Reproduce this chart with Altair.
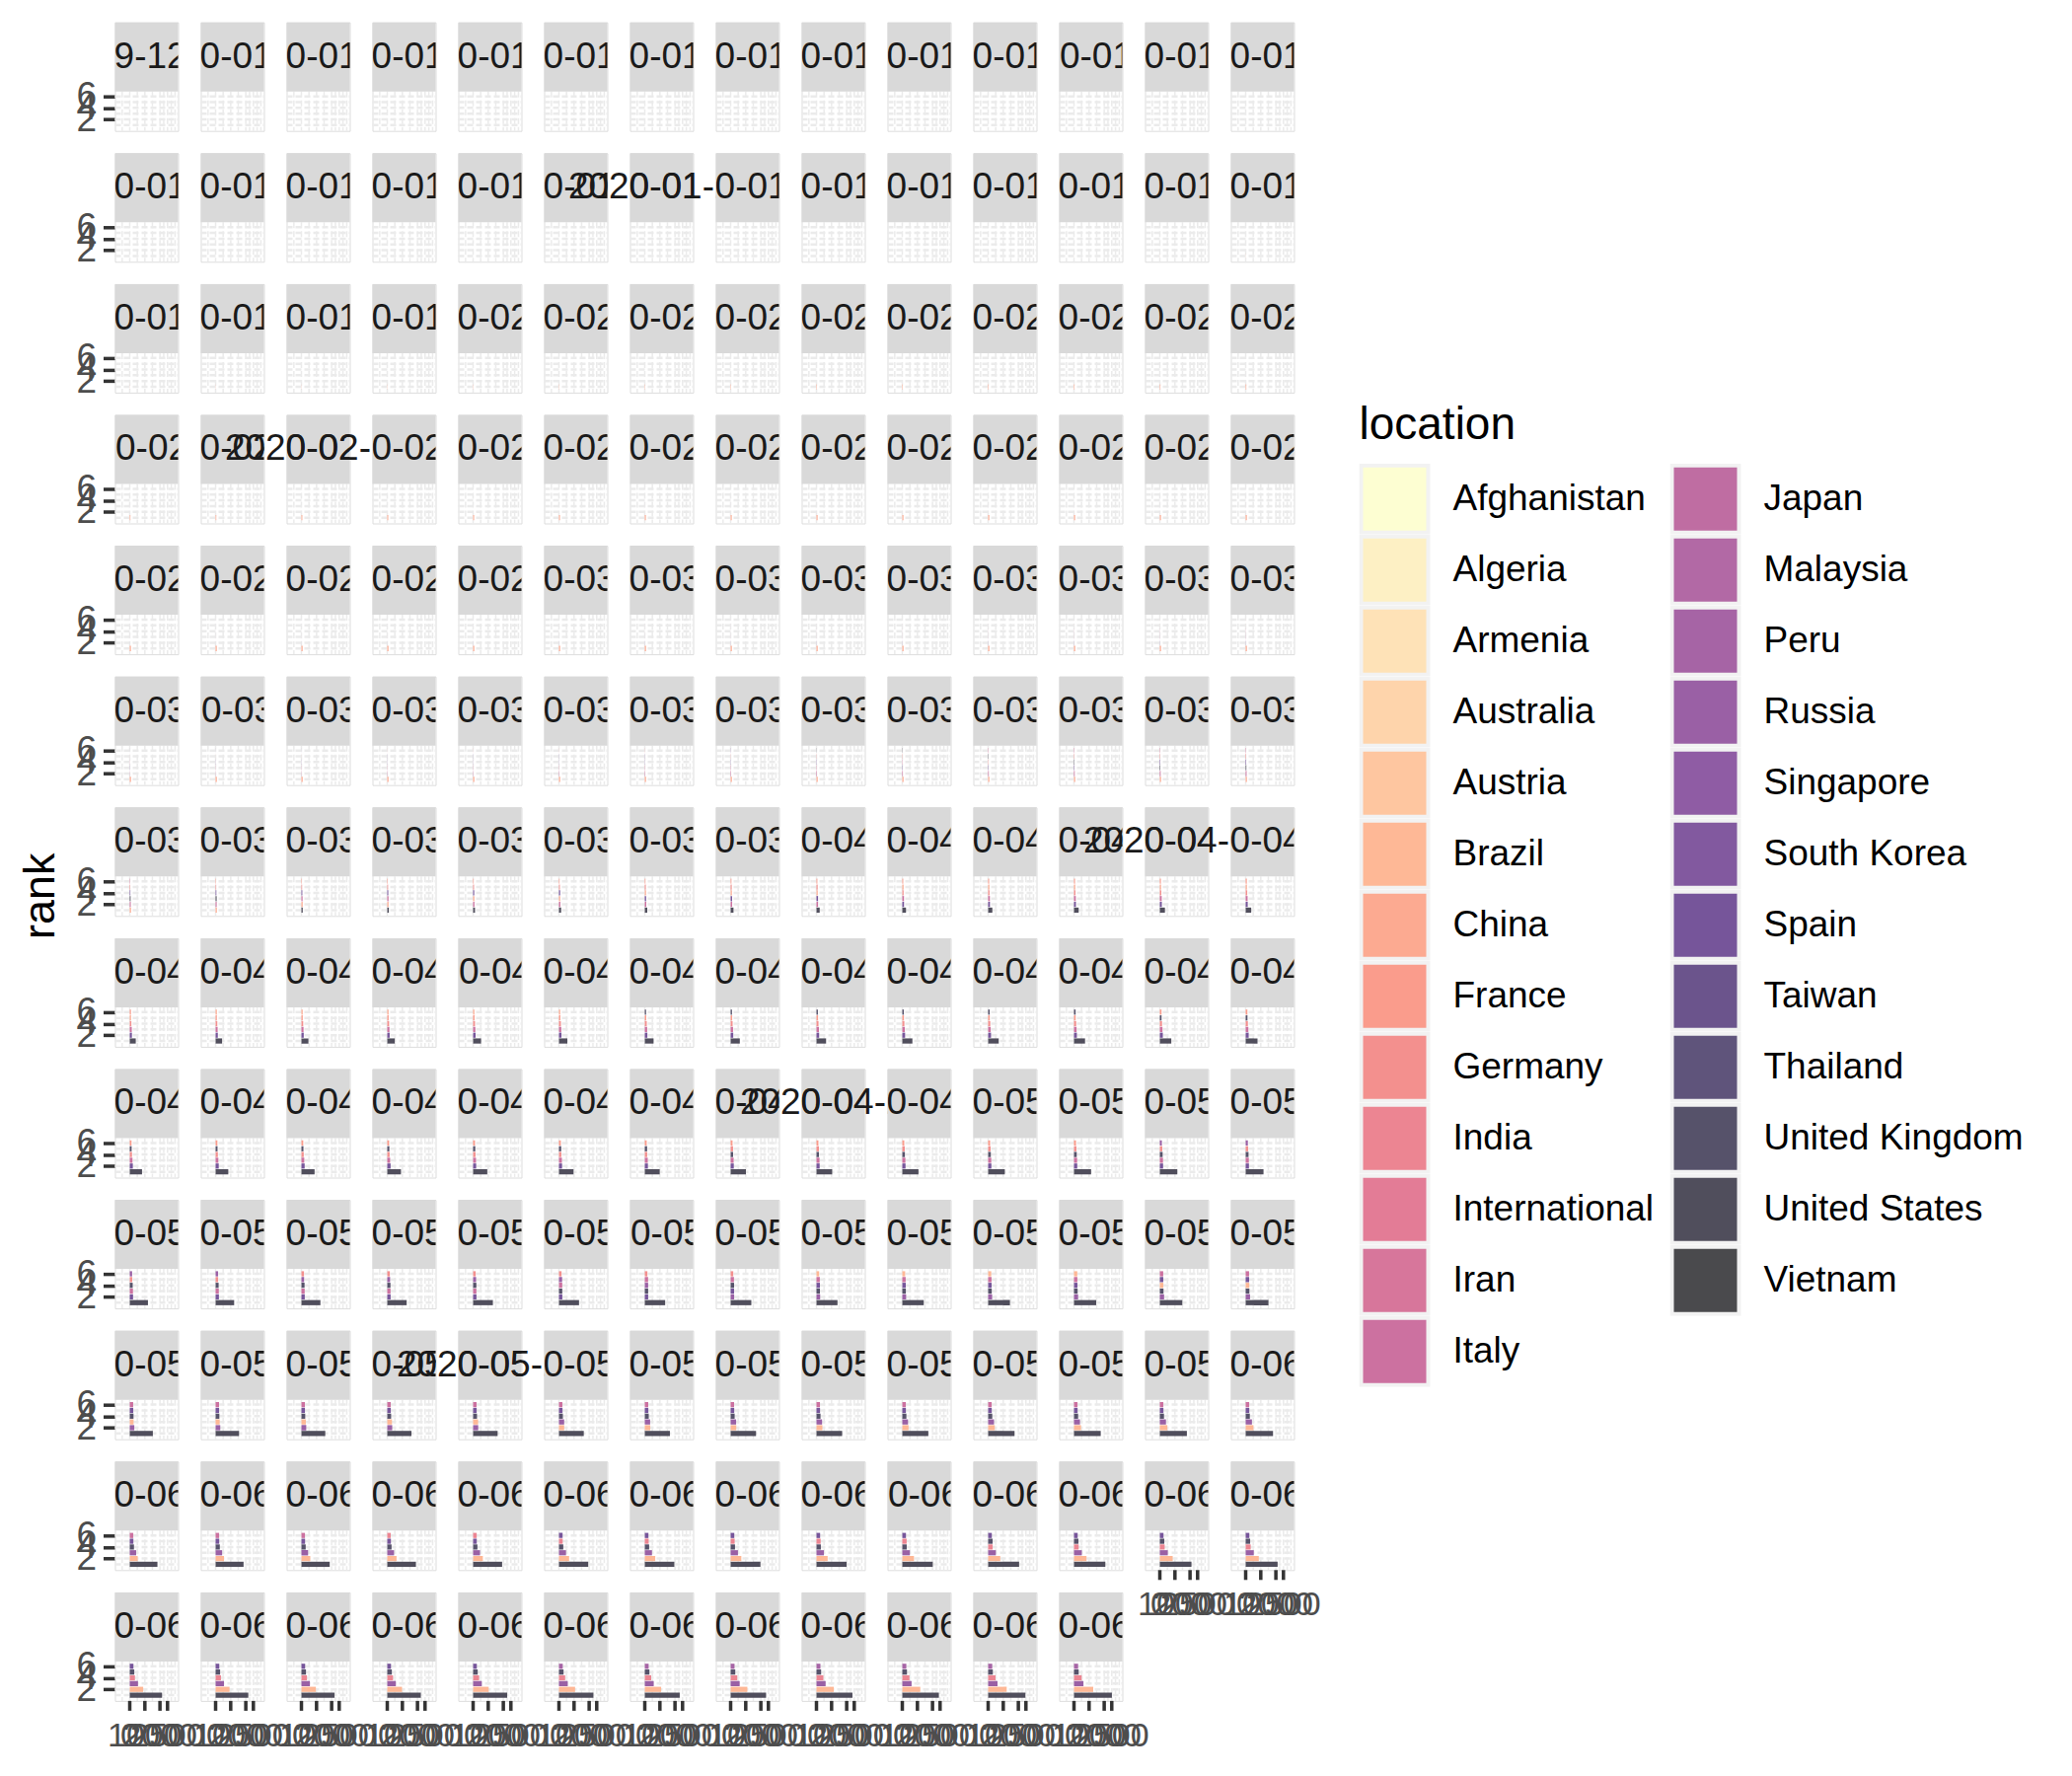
import altair as alt
import pandas as pd

FONT = "Liberation Sans"

LOCATIONS = ["Afghanistan", "Algeria", "Armenia", "Australia", "Austria", "Brazil",
             "China", "France", "Germany", "India", "International", "Iran", "Italy",
             "Japan", "Malaysia", "Peru", "Russia", "Singapore", "South Korea", "Spain",
             "Taiwan", "Thailand", "United Kingdom", "United States", "Vietnam"]

CODE = {"AF": "Afghanistan", "DZ": "Algeria", "AM": "Armenia", "AU": "Australia",
        "AT": "Austria", "BR": "Brazil", "CN": "China", "FR": "France", "DE": "Germany",
        "IN": "India", "INT": "International", "IR": "Iran", "IT": "Italy", "JP": "Japan",
        "MY": "Malaysia", "PE": "Peru", "RU": "Russia", "SG": "Singapore",
        "KR": "South Korea", "ES": "Spain", "TW": "Taiwan", "TH": "Thailand",
        "GB": "United Kingdom", "US": "United States", "VN": "Vietnam"}

START_DATE = "2019-12-31"

# top six locations (rank 1 first) with cumulative cases, one entry per day
TOP6 = [
    "CN:27 AF:0 DZ:0 AM:0 AU:0 AT:0",  # 12-31
    "CN:27 AF:0 DZ:0 AM:0 AU:0 AT:0",  # 01-01
    "CN:27 AF:0 DZ:0 AM:0 AU:0 AT:0",  # 01-02
    "CN:44 AF:0 DZ:0 AM:0 AU:0 AT:0",  # 01-03
    "CN:44 AF:0 DZ:0 AM:0 AU:0 AT:0",  # 01-04
    "CN:59 AF:0 DZ:0 AM:0 AU:0 AT:0",  # 01-05
    "CN:59 AF:0 DZ:0 AM:0 AU:0 AT:0",  # 01-06
    "CN:59 AF:0 DZ:0 AM:0 AU:0 AT:0",  # 01-07
    "CN:59 AF:0 DZ:0 AM:0 AU:0 AT:0",  # 01-08
    "CN:59 AF:0 DZ:0 AM:0 AU:0 AT:0",  # 01-09
    "CN:59 AF:0 DZ:0 AM:0 AU:0 AT:0",  # 01-10
    "CN:41 AF:0 DZ:0 AM:0 AU:0 AT:0",  # 01-11
    "CN:41 AF:0 DZ:0 AM:0 AU:0 AT:0",  # 01-12
    "CN:41 TH:1 AF:0 DZ:0 AM:0 AU:0",  # 01-13
    "CN:41 TH:1 AF:0 DZ:0 AM:0 AU:0",  # 01-14
    "CN:41 JP:1 TH:1 AF:0 DZ:0 AM:0",  # 01-15
    "CN:45 TH:2 JP:1 AF:0 DZ:0 AM:0",  # 01-16
    "CN:62 TH:2 JP:1 AF:0 DZ:0 AM:0",  # 01-17
    "CN:121 TH:2 JP:1 AF:0 DZ:0 AM:0",  # 01-18
    "CN:198 TH:2 JP:1 AF:0 DZ:0 AM:0",  # 01-19
    "CN:291 TH:2 JP:1 KR:1 AF:0 DZ:0",  # 01-20
    "CN:440 TH:2 JP:1 KR:1 TW:1 AF:0",  # 01-21
    "CN:571 TH:4 JP:1 KR:1 TW:1 US:1",  # 01-22
    "CN:830 TH:4 JP:1 KR:1 TW:1 US:1",  # 01-23
    "CN:1287 TH:5 SG:3 TW:3 JP:2 VN:2",  # 01-24
    "CN:1975 TH:7 FR:3 MY:3 SG:3 TW:3",  # 01-25
    "CN:2744 TH:8 AU:4 JP:4 MY:4 SG:4",  # 01-26
    "CN:4515 TH:8 AU:5 SG:5 TW:5 JP:4",  # 01-27
    "CN:5974 TH:14 TW:8 SG:7 JP:6 AU:5",  # 01-28
    "CN:7711 TH:14 TW:8 JP:7 MY:7 SG:7",  # 01-29
    "CN:9692 TH:14 JP:11 SG:10 TW:9 MY:8",  # 01-30
    "CN:11791 TH:19 JP:14 SG:13 KR:11 TW:10",  # 01-31
    "CN:14380 TH:19 JP:17 SG:16 KR:12 TW:10",  # 02-01
    "CN:17205 JP:20 TH:19 SG:18 KR:15 AU:12",  # 02-02
    "CN:20438 JP:20 TH:19 SG:18 KR:15 AU:12",  # 02-03
    "CN:24324 TH:25 SG:24 JP:20 KR:16 AU:13",  # 02-04
    "CN:28018 SG:28 TH:25 JP:22 KR:19 AU:13",  # 02-05
    "CN:31161 SG:28 JP:25 TH:25 KR:23 INT:20",  # 02-06
    "CN:34546 INT:61 SG:30 JP:25 TH:25 KR:24",  # 02-07
    "CN:37198 INT:64 SG:33 TH:32 JP:25 KR:24",  # 02-08
    "CN:40171 INT:64 SG:40 TH:32 KR:27 JP:26",  # 02-09
    "CN:42638 INT:135 SG:45 TH:32 KR:27 JP:26",  # 02-10
    "CN:44653 INT:135 SG:47 TH:33 KR:28 JP:26",  # 02-11
    "CN:46472 INT:175 SG:50 TH:33 JP:28 KR:28",  # 02-12
    "CN:59804 INT:175 SG:58 TH:33 JP:29 KR:28",  # 02-13
    "CN:63851 INT:218 SG:67 JP:33 TH:33 KR:28",  # 02-14
    "CN:66492 INT:285 SG:72 JP:41 TH:34 KR:28",  # 02-15
    "CN:68500 INT:355 SG:75 JP:53 TH:34 KR:29",  # 02-16
    "CN:70548 INT:454 SG:77 JP:59 TH:35 KR:30",  # 02-17
    "CN:72436 INT:542 SG:81 JP:66 TH:35 KR:31",  # 02-18
    "CN:74185 INT:621 SG:84 JP:73 KR:51 TH:35",  # 02-19
    "CN:74576 INT:634 KR:104 JP:84 SG:84 TH:35",  # 02-20
    "CN:75465 INT:634 KR:204 JP:93 SG:85 TH:35",  # 02-21
    "CN:76288 INT:634 KR:433 JP:105 SG:86 TH:35",  # 02-22
    "CN:76936 INT:691 KR:602 JP:132 SG:89 IT:79",  # 02-23
    "CN:77150 KR:833 INT:691 IT:150 JP:144 SG:89",  # 02-24
    "CN:77658 KR:977 INT:691 IT:227 JP:144 SG:90",  # 02-25
    "CN:78064 KR:1261 INT:705 IT:320 JP:164 IR:95",  # 02-26
    "CN:78497 KR:1766 INT:705 IT:445 JP:186 IR:139",  # 02-27
    "CN:78824 KR:2337 INT:705 IT:650 IR:245 JP:210",  # 02-28
    "CN:79251 KR:3150 IT:888 INT:705 IR:388 JP:230",  # 02-29
    "CN:79824 KR:3736 IT:1128 INT:705 IR:593 JP:239",  # 03-01
    "CN:80026 KR:4212 IT:1694 IR:978 INT:705 JP:254",  # 03-02
    "CN:80151 KR:4812 IT:2036 IR:1501 INT:705 JP:268",  # 03-03
    "CN:80270 KR:5328 IT:2502 IR:2336 INT:705 FR:285",  # 03-04
    "CN:80409 KR:5766 IT:3089 IR:2922 INT:705 DE:482",  # 03-05
    "CN:80552 KR:6284 IT:3858 IR:3513 INT:705 DE:670",  # 03-06
    "CN:80651 KR:6767 IR:4747 IT:4636 FR:949 DE:799",  # 03-07
    "CN:80695 KR:7134 IT:5883 IR:5823 FR:1126 DE:1040",  # 03-08
    "CN:80735 KR:7382 IT:7375 IR:6566 FR:1412 DE:1176",  # 03-09
    "CN:80754 IT:9172 KR:7513 IR:7161 FR:1784 ES:1695",  # 03-10
    "CN:80778 IT:10149 IR:8042 KR:7755 FR:2281 ES:2277",  # 03-11
    "CN:80793 IT:12462 IR:9000 KR:7869 FR:2876 ES:2277",  # 03-12
    "CN:80813 IT:15113 IR:10075 KR:7979 ES:5232 DE:3675",  # 03-13
    "CN:80824 IT:17660 IR:11364 KR:8086 ES:6391 DE:4585",  # 03-14
    "CN:80844 IT:21157 IR:12729 KR:8162 ES:7798 DE:5795",  # 03-15
    "CN:80860 IT:24747 IR:13938 ES:9942 KR:8236 DE:7272",  # 03-16
    "CN:80881 IT:27980 IR:14991 ES:11748 DE:9257 KR:8320",  # 03-17
    "CN:80894 IT:31506 IR:16169 ES:13910 DE:12327 US:9197",  # 03-18
    "CN:80928 IT:35713 ES:17963 IR:17361 DE:15320 US:13779",  # 03-19
    "CN:80967 IT:41035 ES:20410 DE:19848 US:19367 IR:18407",  # 03-20
    "CN:81008 IT:47021 ES:25374 US:24192 DE:22213 IR:19644",  # 03-21
    "CN:81054 IT:53578 US:33592 ES:28603 DE:24873 IR:20610",  # 03-22
    "CN:81093 IT:59138 US:43781 ES:35136 DE:29056 IR:21638",  # 03-23
    "CN:81171 IT:63927 US:54856 ES:39885 DE:32986 IR:23049",  # 03-24
    "CN:81218 IT:69176 US:68211 ES:49515 DE:37323 FR:25233",  # 03-25
    "US:85435 CN:81285 IT:74386 ES:57786 DE:43938 FR:29155",  # 03-26
    "US:104126 CN:81340 IT:80589 ES:65719 DE:50871 FR:32964",  # 03-27
    "US:124686 IT:86498 CN:81394 ES:73232 DE:57695 FR:37575",  # 03-28
    "US:143055 IT:92472 CN:81439 ES:80110 DE:62095 FR:40174",  # 03-29
    "US:164610 IT:97689 ES:87956 CN:81470 DE:66885 FR:44550",  # 03-30
    "US:189618 IT:101739 ES:95923 CN:81518 DE:71808 FR:52128",  # 03-31
    "US:213372 IT:105792 ES:104118 CN:81554 DE:77872 FR:56989",  # 04-01
    "US:243453 ES:112065 IT:110574 DE:84794 CN:81589 FR:59105",  # 04-02
    "US:275586 ES:119199 IT:115242 DE:91159 CN:81620 FR:64338",  # 04-03
    "US:308850 ES:126168 IT:119827 DE:96092 CN:81669 FR:68605",  # 04-04
    "US:337072 ES:131646 IT:124632 DE:100123 CN:81708 FR:70478",  # 04-05
    "US:366667 ES:136675 IT:128948 DE:103374 CN:81740 FR:74390",  # 04-06
    "US:396223 ES:141942 IT:132547 DE:107663 CN:81802 FR:78167",  # 04-07
    "US:429052 ES:148220 IT:135586 DE:113296 FR:82048 CN:81865",  # 04-08
    "US:461437 ES:153222 IT:139422 DE:118181 FR:86334 CN:81907",  # 04-09
    "US:496535 ES:158273 IT:143626 DE:122171 FR:90676 CN:81953",  # 04-10
    "US:526396 ES:163027 IT:147577 DE:124908 FR:93790 CN:82052",  # 04-11
    "US:555313 ES:166831 IT:152271 DE:127854 FR:95403 CN:82160",  # 04-12
    "US:580619 ES:170099 IT:156363 DE:130072 FR:98076 GB:84279",  # 04-13
    "US:607670 ES:172541 IT:159516 DE:131359 FR:103573 GB:88621",  # 04-14
    "US:636350 ES:177644 IT:162488 DE:134753 FR:106206 GB:93873",  # 04-15
    "US:667801 ES:184948 IT:165155 DE:137698 FR:108847 GB:98476",  # 04-16
    "US:699706 ES:190839 IT:168941 DE:141397 FR:109252 GB:103093",  # 04-17
    "US:732197 ES:191726 IT:172434 DE:143342 FR:111821 GB:108692",  # 04-18
    "US:759086 ES:198674 IT:175925 DE:145184 GB:114217 FR:112606",  # 04-19
    "US:784326 ES:200210 IT:178972 DE:147065 GB:120067 FR:114657",  # 04-20
    "US:811865 ES:204178 IT:181228 DE:148291 GB:124743 FR:117324",  # 04-21
    "US:840351 ES:208389 IT:183957 DE:150648 GB:129044 FR:119151",  # 04-22
    "US:869170 ES:213024 IT:187327 DE:153129 GB:133495 FR:120804",  # 04-23
    "US:905358 ES:219764 IT:189973 DE:154999 GB:138078 FR:122577",  # 04-24
    "US:938154 ES:202990 IT:192994 DE:156513 GB:143464 FR:124114",  # 04-25
    "US:965785 ES:205905 IT:195351 DE:157770 GB:148377 FR:124575",  # 04-26
    "US:988197 ES:207634 IT:197675 DE:158758 GB:152840 FR:125770",  # 04-27
    "US:1012582 ES:209465 IT:199414 GB:161145 DE:159912 FR:126835",  # 04-28
    "US:1039909 ES:210773 IT:201505 GB:165221 DE:161539 FR:128442",  # 04-29
    "US:1069424 ES:212917 IT:203591 GB:171253 DE:163009 FR:129581",  # 04-30
    "US:1103461 ES:213435 IT:205463 GB:177454 DE:164077 FR:130185",  # 05-01
    "US:1132539 ES:215216 IT:207428 GB:182260 DE:164967 FR:130979",  # 05-02
    "US:1158040 ES:216582 IT:209328 GB:186599 DE:165664 RU:134687",  # 05-03
    "US:1180375 ES:217466 IT:210717 GB:190584 DE:166152 RU:145268",  # 05-04
    "US:1204351 ES:218011 IT:211938 GB:194990 DE:167007 RU:155370",  # 05-05
    "US:1228603 ES:219329 IT:213013 GB:201101 DE:168162 RU:165929",  # 05-06
    "US:1257023 ES:220325 IT:214457 GB:206715 RU:177160 DE:169430",  # 05-07
    "US:1283929 ES:221447 IT:215858 GB:211364 RU:187859 DE:170588",  # 05-08
    "US:1309550 ES:222857 IT:217185 GB:215260 RU:198676 DE:171324",  # 05-09
    "US:1329260 ES:223578 GB:219183 IT:218268 RU:209688 DE:171879",  # 05-10
    "US:1347881 ES:224350 GB:223060 RU:221344 IT:219070 DE:172576",  # 05-11
    "US:1369376 RU:232243 ES:227436 GB:226463 IT:219814 DE:173171",  # 05-12
    "US:1390406 RU:242271 GB:229705 ES:228030 IT:221216 BR:177589",  # 05-13
    "US:1417774 RU:252245 GB:233151 ES:228691 IT:222104 BR:188974",  # 05-14
    "US:1442824 RU:262843 GB:236711 ES:229540 IT:223096 BR:202918",  # 05-15
    "US:1467820 RU:272043 GB:240161 ES:230183 IT:223885 BR:218223",  # 05-16
    "US:1486757 RU:281752 GB:243303 BR:233142 ES:230698 IT:224760",  # 05-17
    "US:1508308 RU:290678 GB:246406 BR:241080 ES:230698 IT:225435",  # 05-18
    "US:1528568 RU:299941 BR:254220 GB:248293 ES:231350 IT:225886",  # 05-19
    "US:1551853 RU:308705 BR:271628 GB:248818 ES:231606 IT:226699",  # 05-20
    "US:1577147 RU:317554 BR:291579 GB:250908 ES:232037 IT:227364",  # 05-21
    "US:1600937 RU:326448 BR:310087 GB:254195 ES:232555 IT:228006",  # 05-22
    "US:1622612 RU:335882 BR:330890 GB:257154 ES:233037 IT:228658",  # 05-23
    "US:1643246 BR:347398 RU:344481 GB:259559 ES:234824 IT:229327",  # 05-24
    "US:1662302 BR:363211 RU:353427 GB:261184 ES:235290 IT:229858",  # 05-25
    "US:1681418 BR:374898 RU:362342 GB:265227 ES:235772 IT:230158",  # 05-26
    "US:1699176 BR:391222 RU:370680 GB:267240 ES:236259 IT:230555",  # 05-27
    "US:1721750 BR:411821 RU:379051 GB:269127 ES:236259 IT:231139",  # 05-28
    "US:1747087 BR:438238 RU:387623 GB:271222 ES:237906 IT:231732",  # 05-29
    "US:1770384 BR:465166 RU:396575 GB:272826 ES:238564 IT:232248",  # 05-30
    "US:1790191 BR:498440 RU:405843 GB:274762 ES:239228 IT:232664",  # 05-31
    "US:1811020 BR:514849 RU:414878 GB:276332 ES:239479 IT:233019",  # 06-01
    "US:1831821 BR:526447 RU:423741 GB:277985 ES:239638 IT:233197",  # 06-02
    "US:1851520 BR:555383 RU:432277 GB:279856 ES:239932 IT:233515",  # 06-03
    "US:1872660 BR:584016 RU:440538 GB:281661 ES:240326 IT:233836",  # 06-04
    "US:1897380 BR:614941 RU:449256 GB:283311 ES:240660 IN:226770",  # 06-05
    "US:1920061 BR:645771 RU:458102 GB:284868 ES:240978 IN:236657",  # 06-06
    "US:1938823 BR:672846 RU:467073 GB:286194 IN:246628 ES:241310",  # 06-07
    "US:1956421 BR:691758 RU:476043 GB:287399 IN:256611 ES:241550",  # 06-08
    "US:1973797 BR:707412 RU:484630 GB:289140 IN:266598 ES:241717",  # 06-09
    "US:1994283 BR:739503 RU:493023 GB:290143 IN:276583 ES:241966",  # 06-10
    "US:2016027 BR:772416 RU:501800 GB:291409 IN:286579 ES:242280",  # 06-11
    "US:2048986 BR:802828 RU:510761 IN:297535 GB:292950 ES:242707",  # 06-12
    "US:2074526 BR:828810 RU:519458 IN:308993 GB:294375 ES:243209",  # 06-13
    "US:2094069 BR:850514 RU:528267 IN:320922 GB:295889 ES:243605",  # 06-14
    "US:2114026 BR:867624 RU:537210 IN:332424 GB:296857 ES:243928",  # 06-15
    "US:2137731 BR:888271 RU:545458 IN:343091 GB:298136 ES:244109",  # 06-16
    "US:2163290 BR:923189 RU:553301 IN:354065 GB:299251 ES:244328",  # 06-17
    "US:2191052 BR:955377 RU:561091 IN:366946 GB:300469 ES:244683",  # 06-18
    "US:2222576 BR:978142 RU:568292 IN:380532 GB:301815 ES:245268",  # 06-19
    "US:2255119 BR:1032913 RU:576162 IN:395048 GB:303110 ES:245575",  # 06-20
    "US:2280969 BR:1067579 RU:583879 IN:410461 GB:304331 PE:251338",  # 06-21
    "US:2312302 BR:1083341 RU:591465 IN:425282 GB:305289 PE:254936",  # 06-22
    "US:2347022 BR:1106470 RU:598878 IN:440215 GB:306210 PE:257447",  # 06-23
    "US:2381538 BR:1145906 RU:606043 IN:456183 GB:306862 PE:260810",  # 06-24
    "US:2422310 BR:1188631 RU:613148 IN:473105 GB:307980 PE:264689",  # 06-25
    "US:2467554 BR:1228114 RU:619936 IN:490401 GB:309360 PE:268602",  # 06-26
    "US:2510259 BR:1274974 RU:626779 IN:508953 GB:310250 PE:272364",  # 06-27
]

# strips whose label text was drawn without clipping in the original
UNCLIPPED = ["2020-01-20", "2020-02-13", "2020-04-05", "2020-04-29", "2020-05-23"]

X_TICKS = [0, 1000, 2000, 2500]          # thousands of cases
Y_TICKS = [2, 4, 6]
GRID_X = [-500, 0, 500, 1000, 1500, 2000, 2250, 2500, 2750, 3000]
GRID_Y = [1, 2, 3, 4, 5, 6]
NCOL = 14

# ---- colours: reversed magma with alpha 0.71 over white -------------------
MAGMA = ["#000004", "#140E36", "#3B0F70", "#641A80", "#8C2981", "#B73779",
         "#DE4968", "#F7705C", "#FE9F6D", "#FECF92", "#FCFDBF"]
ALPHA = 0.71


def _rgb(h):
    return [int(h[i:i + 2], 16) for i in (1, 3, 5)]


def _magma(t):
    p = t * (len(MAGMA) - 1)
    i = min(int(p), len(MAGMA) - 2)
    f = p - i
    a, b = _rgb(MAGMA[i]), _rgb(MAGMA[i + 1])
    return [a[j] + (b[j] - a[j]) * f for j in range(3)]


def _fill(i):
    c = _magma(1 - i / (len(LOCATIONS) - 1))
    return "#%02X%02X%02X" % tuple(round(ALPHA * v + (1 - ALPHA) * 255) for v in c)


COLORS = [_fill(i) for i in range(len(LOCATIONS))]

# ---- table -----------------------------------------------------------------
dates = pd.date_range(START_DATE, periods=len(TOP6)).strftime("%Y-%m-%d").tolist()
rows = []
for n, (d, entry) in enumerate(zip(dates, TOP6)):
    rows.append({"date": d, "kind": "label", "loc": "", "cases": 0, "rank": 0,
                 "special": d in UNCLIPPED, "bottom": n >= len(dates) - NCOL})
    for r, item in enumerate(entry.split(), start=1):
        code, val = item.split(":")
        rows.append({"date": d, "kind": "bar", "loc": CODE[code], "cases": int(val),
                     "rank": r, "special": False, "bottom": False})
df = pd.DataFrame(rows)

# ---- chart -----------------------------------------------------------------
W, H, STRIP = 64, 110, 70
X_DOMAIN = [-980, 3200]
Y_DOMAIN = [0, 18.82]
BAR_HALF = 0.45

xs = alt.Scale(domain=X_DOMAIN, nice=False, zero=False)
ys = alt.Scale(domain=Y_DOMAIN, nice=False, zero=False)
y_axis = alt.Axis(values=Y_TICKS, title=None, grid=False, domain=False,
                  tickSize=12, tickWidth=3.5, tickColor="#333333", labelFontSize=37,
                  labelColor="#4D4D4D", labelPadding=7, labelOverlap=False,
                  labelFont=FONT)

is_label = "datum.kind == 'label'"

grid_h = alt.Chart().transform_filter(is_label).transform_calculate(
    gy=str(GRID_Y)).transform_flatten(["gy"]).mark_rule(
    color="#EBEBEB", strokeWidth=2.5, strokeDash=[6, 3]).encode(
    x=alt.value(0), x2=alt.value(W), y=alt.Y("gy:Q", scale=ys, axis=y_axis))

grid_v = alt.Chart().transform_filter(is_label).transform_calculate(
    gx=str(GRID_X)).transform_flatten(["gx"]).mark_rule(
    color="#EBEBEB", strokeWidth=1.5, strokeDash=[6, 3]).encode(
    x=alt.X("gx:Q", scale=xs, axis=None), y=alt.value(STRIP), y2=alt.value(H))

legend = alt.Legend(orient="none", legendX=1261, legendY=386, columns=2,
                    title="location", titleFontSize=46, titleFontWeight="normal",
                    titleColor="black", titleFont=FONT, titlePadding=15,
                    labelFontSize=37, labelFont=FONT, labelColor="black",
                    labelOffset=23, labelLimit=600, symbolType="square",
                    symbolSize=4624, symbolStrokeColor="#F2F2F2",
                    symbolStrokeWidth=4, symbolOpacity=1, rowPadding=0,
                    clipHeight=72, columnPadding=16, padding=0)

bars = alt.Chart().transform_filter("datum.kind == 'bar'").transform_calculate(
    k="datum.cases / 1000", x0="0",
    ylo=f"datum.rank - {BAR_HALF}", yhi=f"datum.rank + {BAR_HALF}").mark_rect().encode(
    x=alt.X("x0:Q", scale=xs, axis=None), x2=alt.X2("k"),
    y=alt.Y("ylo:Q", scale=ys, axis=y_axis), y2=alt.Y2("yhi"),
    color=alt.Color("loc:N", scale=alt.Scale(domain=LOCATIONS, range=COLORS),
                    legend=legend))

strip = alt.Chart().transform_filter(is_label).mark_rect(color="#D9D9D9").encode(
    x=alt.value(0), x2=alt.value(W), y=alt.value(0), y2=alt.value(STRIP))

strip_text = alt.Chart().transform_filter(is_label).mark_text(
    clip=True, font=FONT, fontSize=37, color="#1A1A1A", align="center",
    baseline="middle").encode(x=alt.value(W / 2), y=alt.value(STRIP / 2), text="date:N")

strip_text_full = alt.Chart().transform_filter(
    "datum.kind == 'label' && datum.special").mark_text(
    font=FONT, fontSize=37, color="#1A1A1A", align="center",
    baseline="middle").encode(x=alt.value(W / 2), y=alt.value(STRIP / 2), text="date:N")

# x axis drawn under the last panel of every column (as the original does)
x_ticks = alt.Chart().transform_filter(
    "datum.kind == 'label' && datum.bottom == true").transform_calculate(
    tx=str(X_TICKS)).transform_flatten(["tx"]).mark_rule(
    color="#333333", strokeWidth=3.5).encode(
    x=alt.X("tx:Q", scale=xs, axis=None), y=alt.value(H), y2=alt.value(H + 10))

x_labels = alt.Chart().transform_filter(
    "datum.bottom && datum.kind == 'label'").transform_calculate(
    tl=str(X_TICKS)).transform_flatten(["tl"]).mark_text(
    font=FONT, fontSize=34, color="#4D4D4D", align="center", baseline="top").encode(
    x=alt.X("tl:Q", scale=xs, axis=None), y=alt.value(H + 19),
    text=alt.Text("tl:Q", format="d"))

layer = alt.layer(grid_h, grid_v, bars, strip, strip_text, strip_text_full,
                  x_ticks, x_labels, data=df).properties(width=W, height=H)

chart = layer.facet(
    facet=alt.Facet("date:N", header=alt.Header(labels=False, title=None,
                                                labelExpr="''", labelFontSize=1,
                                                labelPadding=0)),
    columns=NCOL,
    spacing={"row": 22.6, "column": 23},
    bounds="flush",
).properties(
    title=alt.TitleParams("rank", orient="left", anchor="middle", fontSize=45,
                          font=FONT, fontWeight="normal", color="black", offset=13,
                          dx=-9),
    padding={"left": 10.5, "top": 12.7, "right": 5, "bottom": 5},
).configure_view(stroke=None).configure(font=FONT, background="white")

chart.save("out.html", embed_options={"renderer": "svg", "actions": False})
